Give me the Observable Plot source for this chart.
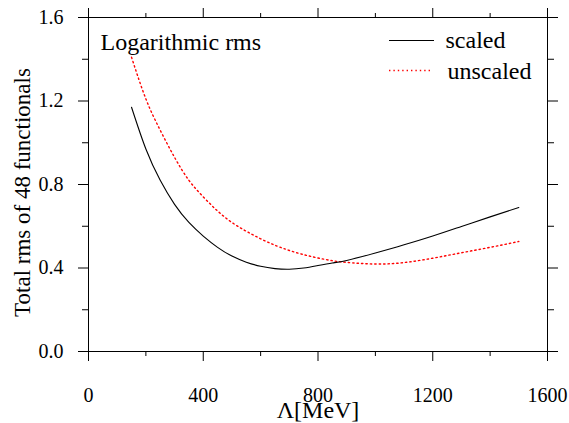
<!DOCTYPE html>
<html>
<head>
<meta charset="utf-8">
<script src="https://cdn.jsdelivr.net/npm/d3@7"></script>
<script src="https://cdn.jsdelivr.net/npm/@observablehq/plot@0.6"></script>
<style>
  html, body { margin: 0; padding: 0; background: #fff; }
</style>
</head>
<body>
<div id="chart"></div>
<script>
// ---- data ----
const lambda   = [150, 200, 250, 300, 350, 400, 450, 500, 550, 600, 650, 700, 750, 800, 850, 900, 1000, 1100, 1200, 1300, 1400, 1500];
const scaled   = [1.17, 0.97, 0.82, 0.705, 0.618, 0.553, 0.499, 0.457, 0.428, 0.408, 0.397, 0.394, 0.400, 0.412, 0.424, 0.436, 0.472, 0.511, 0.553, 0.599, 0.645, 0.690];
const unscaled = [1.41, 1.21, 1.06, 0.93, 0.82, 0.741, 0.673, 0.618, 0.576, 0.540, 0.509, 0.484, 0.464, 0.448, 0.435, 0.427, 0.419, 0.426, 0.447, 0.473, 0.499, 0.527];

const xMajor = [0, 400, 800, 1200, 1600];
const xMinor = [200, 600, 1000, 1400];
const yMajor = [0.0, 0.4, 0.8, 1.2, 1.6];
const yMinor = [0.2, 0.6, 1.0, 1.4];

const seriesNames = ["scaled", "unscaled"];
const panelTitle = "Logarithmic rms";
const xTitle = "Λ[MeV]";
const yTitle = "Total rms of 48 functionals";

const rowsScaled = lambda.map((x, i) => ({x, y: scaled[i]}));
const rowsUnscaled = lambda.map((x, i) => ({x, y: unscaled[i]}));

const fmtX = d => String(d);
const fmtY = d3.format(".1f");
const none = () => "";
const SERIF = '"Liberation Serif", "Times New Roman", Times, serif';

const plot = Plot.plot({
  width: 569,
  height: 423,
  marginLeft: 88,
  marginRight: 22,
  marginTop: 17,
  marginBottom: 72,
  style: {fontFamily: SERIF, background: "white", color: "black"},
  x: {domain: [0, 1600]},
  y: {domain: [0, 1.6]},
  marks: [
    Plot.frame({stroke: "black", strokeWidth: 1}),
    // bottom axis
    Plot.axisX({anchor: "bottom", ticks: xMajor, tickSize: 10, tickPadding: 26, tickFormat: fmtX, fontSize: 20, label: null}),
    Plot.axisX({anchor: "bottom", ticks: xMinor, tickSize: 5, tickFormat: none, label: null}),
    // top axis
    Plot.axisX({anchor: "top", ticks: xMajor, tickSize: 10, tickFormat: none, label: null}),
    Plot.axisX({anchor: "top", ticks: xMinor, tickSize: 5, tickFormat: none, label: null}),
    // left axis
    Plot.axisY({anchor: "left", ticks: yMajor, tickSize: 10, tickPadding: 15, tickFormat: fmtY, fontSize: 20, label: null}),
    Plot.axisY({anchor: "left", ticks: yMinor, tickSize: 6, tickFormat: none, label: null}),
    // right axis
    Plot.axisY({anchor: "right", ticks: yMajor, tickSize: 10, tickFormat: none, label: null}),
    Plot.axisY({anchor: "right", ticks: yMinor, tickSize: 6, tickFormat: none, label: null}),
    // curves
    Plot.line(rowsUnscaled, {x: "x", y: "y", stroke: "#ff0000", strokeWidth: 1.4, strokeDasharray: "1.4,3", curve: "natural"}),
    Plot.line(rowsScaled, {x: "x", y: "y", stroke: "black", strokeWidth: 1.1, curve: "natural"}),
    // texts
    Plot.text([panelTitle], {frameAnchor: "top-left", dx: 12, dy: 15, text: d => d, fontSize: 24, textAnchor: "start", lineAnchor: "top"}),
    Plot.text([xTitle], {frameAnchor: "bottom", dy: 59, text: d => d, fontSize: 24, textAnchor: "middle", lineAnchor: "middle"}),
    Plot.text([yTitle], {frameAnchor: "left", dx: -66, dy: 8, rotate: -90, text: d => d, fontSize: 23, textAnchor: "middle", lineAnchor: "middle"}),
    // legend labels
    Plot.text([seriesNames[0]], {frameAnchor: "top-right", dx: -102, dy: 23, text: d => d, fontSize: 24, textAnchor: "start", lineAnchor: "middle"}),
    Plot.text([seriesNames[1]], {frameAnchor: "top-right", dx: -100, dy: 54, text: d => d, fontSize: 24, textAnchor: "start", lineAnchor: "middle"})
  ]
});

const svg = d3.select(plot);

// legend sample lines (decoration)
svg.append("line").attr("x1", 389).attr("x2", 434).attr("y1", 40.5).attr("y2", 40.5)
  .attr("stroke", "black").attr("stroke-width", 1.1);
svg.append("line").attr("x1", 389).attr("x2", 433).attr("y1", 70.5).attr("y2", 70.5)
  .attr("stroke", "#ff0000").attr("stroke-width", 1.4).attr("stroke-dasharray", "1.4,3");

document.getElementById("chart").appendChild(plot);
</script>
</body>
</html>
